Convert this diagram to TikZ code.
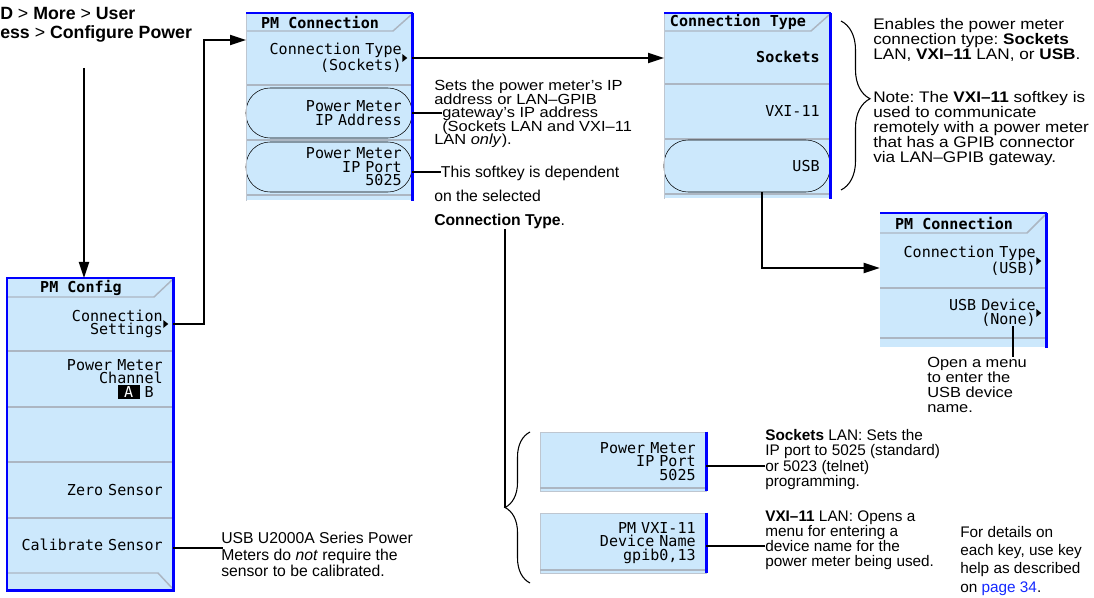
\documentclass[tikz,border=0pt]{standalone}
\usepackage{fontspec}
\setmainfont{Liberation Sans}
\newfontfamily\widefont{Liberation Sans}[FakeStretch=1.12]
\newfontfamily\keyfont{DejaVu Sans Mono}
\usetikzlibrary{calc,arrows.meta,positioning,decorations.pathreplacing}
\definecolor{keyblue}{RGB}{204,232,252}
\definecolor{sepgray}{RGB}{172,182,194}
\definecolor{edgegray}{RGB}{190,198,208}
\definecolor{rimblue}{RGB}{0,0,255}
\definecolor{linkblue}{RGB}{20,40,255}
\setlength{\lineskiplimit}{-20pt}
\frenchspacing
\tikzset{
  menu/.style={rectangle, fill=keyblue, draw=none, anchor=north west,
    minimum width=124.5pt, inner sep=0pt},
  softkey/.style={rectangle, inner xsep=7.75pt, inner ysep=0pt, text width=109pt,
    align=right, minimum height=37.5pt,
    font=\keyfont\fontsize{11.3}{10.2}\selectfont},
  boldkey/.style={softkey, font=\keyfont\bfseries\fontsize{11.3}{10.2}\selectfont},
  picked/.style={softkey, draw=black, thin, rounded corners=18pt},
  menutitle/.style={font=\keyfont\bfseries\fontsize{11.3}{10.2}\selectfont, inner sep=0pt},
  sepline/.style={draw=sepgray, line width=1.1pt},
  rimline/.style={draw=rimblue, line width=1.6pt},
  rimside/.style={draw=rimblue, line width=2.4pt},
  wire/.style={draw=black, line width=1.5pt},
  arr/.style={wire, -{Triangle[length=12pt, width=7.5pt]}},
  note/.style={anchor=north west, inner sep=0pt, align=left,
    font=\fontsize{11.5}{#1}\selectfont},
  note/.default=11.5,
  widenote/.style 2 args={note, font=\widefont\fontsize{#1}{#2}\selectfont},
  curly/.style 2 args={draw=black, line width=0.8pt, decorate,
    decoration={brace, amplitude=#1, aspect=#2}}
}
\newcommand{\keyarrow}[1]{\fill ($(#1.east)+(-10,-4)$) -- ++(5,4) -- ++(-5,4) -- cycle;}

\begin{document}
\begin{tikzpicture}[x=0.75pt, y=-0.75pt]
  \useasboundingbox (0,0) rectangle (1094,598);

  % key path heading, cut at the left edge
  \node[note, font=\bfseries\fontsize{13.3}{14.25}\selectfont]
    (hdr) at (0,7.5) {D {\mdseries >} More {\mdseries >} User\\ess {\mdseries >} Configure Power};

  % PM Config menu
  \node[menu, minimum height=234pt] (cfgmenu) at (7,278) {};
  \node[menutitle] (cfgtitle) at (81,288) {PM Config};
  \draw[sepline] (7,297) -- (154,297) -- (172,280);
  \node[softkey] (cfgconn) at (90,324) {Connection\\Settings};
  \node[softkey] (cfgchan) at (90,379)
    {Power Meter\\Channel\\{\setlength\fboxsep{1pt}\colorbox{black}{\textcolor{white}{\ A\ }}}\ B\phantom{B}};
  \node[softkey] (cfgzero) at (90,490) {Zero Sensor};
  \node[softkey] (cfgcal) at (90,545) {Calibrate Sensor};
  \foreach \y in {351,407,462,518} \draw[sepline] (7,\y) -- (173,\y);
  \draw[sepline] (7,573) -- (158,573) -- (172,588);
  \draw[rimline] (cfgmenu.south west) rectangle (cfgmenu.north east);
  \draw[rimside] (cfgmenu.north east) -- (cfgmenu.south east);
  \keyarrow{cfgconn}

  % PM Connection menu (Sockets)
  \node[menu, minimum height=140.25pt] (sockmenu) at (246,13) {};
  \node[menutitle] (socktitle) at (320,22) {PM Connection};
  \draw[sepline] (246,31) -- (393,31) -- (411,15);
  \foreach \y in {85,140,195} \draw[sepline] (246,\y) -- (412,\y);
  \node[softkey] (sockconn) at (329,58) {Connection Type\\(Sockets)};
  \node[picked] (sockaddr) at (329,113) {Power Meter\\IP Address};
  \node[picked] (sockport) at (329,167) {Power Meter\\IP Port\\5025};
  \draw[edgegray] (sockmenu.north west) -- (sockmenu.south west);
  \draw[rimline] (sockmenu.north west) -- (sockmenu.north east);
  \draw[rimside] (sockmenu.north east) -- (sockmenu.south east);
  \keyarrow{sockconn}

  % Connection Type menu
  \node[menu, minimum height=138.75pt] (typemenu) at (664,13) {};
  \node[menutitle] (typetitle) at (738,22) {Connection Type};
  \draw[sepline] (664,31) -- (811,31) -- (829,15);
  \foreach \y in {84,139,194} \draw[sepline] (664,\y) -- (830,\y);
  \node[boldkey] (typesock) at (747,57) {Sockets};
  \node[softkey] (typevxi) at (747,111) {VXI-11};
  \node[picked, minimum height=39pt] (typeusb) at (747,166) {USB};
  \draw[edgegray] (typemenu.north west) -- (typemenu.south west);
  \draw[rimline] (typemenu.north west) -- (typemenu.north east);
  \draw[rimside] (typemenu.north east) -- (typemenu.south east);

  % PM Connection menu (USB)
  \node[menu, minimum height=100.5pt] (usbmenu) at (880,213) {};
  \node[menutitle] (usbtitle) at (954,223) {PM Connection};
  \draw[sepline] (880,233) -- (1027,233) -- (1045,215);
  \foreach \y in {288,338} \draw[sepline] (880,\y) -- (1046,\y);
  \node[softkey] (usbconn) at (963,261) {Connection Type\\(USB)};
  \node[softkey] (usbdev) at (963,313) {USB Device\\(None)};
  \draw[rimline] (usbmenu.north west) -- (usbmenu.north east);
  \draw[rimside] (usbmenu.north east) -- (usbmenu.south east);
  \keyarrow{usbconn}
  \keyarrow{usbdev}

  % the two keys that depend on the connection type
  \node[softkey, fill=keyblue, draw=edgegray, thin, minimum height=44.25pt] (portkey) at (623,461.5)
    {Power Meter\\IP Port\\5025};
  \draw[sepline] (540,488) -- (706,488);
  \draw[rimside] (portkey.north east) -- (portkey.south east);
  \node[softkey, fill=keyblue, draw=edgegray, thin, minimum height=45pt] (vxikey) at (623,543)
    {PM VXI-11\\Device Name\\gpib0,13};
  \draw[sepline] (540,570) -- (706,570);
  \draw[rimside] (vxikey.north east) -- (vxikey.south east);

  % notes
  \node[widenote={11}{10.1}] (setsnote) at (434,80) {Sets the power meter’s IP\\address or LAN–GPIB\\\hspace*{6pt}gateway’s IP address\\\hspace*{6pt}(Sockets LAN and VXI–11\\LAN \textit{only}).};
  \node[note=18, font=\fontsize{11.8}{18}\selectfont] (depnote) at (434,166) {\hspace*{5pt}This softkey is dependent\\on the selected\\\textbf{Connection Type}.};
  \node[widenote={11.5}{11.25}] (enablenote) at (873,18) {Enables the power meter\\connection type: \textbf{Sockets}\\LAN, \textbf{VXI–11} LAN, or \textbf{USB}.};
  \node[widenote={11.5}{11.25}] (typenote) at (873,91) {Note: The \textbf{VXI–11} softkey is\\used to communicate\\remotely with a power meter\\that has a GPIB connector\\via LAN–GPIB gateway.};
  \node[widenote={11}{11.25}] (opennote) at (927,357) {Open a menu\\to enter the\\USB device\\name.};
  \node[note=12.4, font=\fontsize{11.8}{12.4}\selectfont] (usbnote) at (221,532) {USB U2000A Series Power\\Meters do \textit{not} require the\\sensor to be calibrated.};
  \node[note=11.5] (socknote) at (765,429) {\textbf{Sockets} LAN: Sets the\\IP port to 5025 (standard)\\or 5023 (telnet)\\programming.};
  \node[note=11.25] (devnote) at (765,511) {\textbf{VXI–11} LAN: Opens a\\menu for entering a\\device name for the\\power meter being used.};
  \node[note=13.7] (helpnote) at (960,526) {For details on\\each key, use key\\help as described\\on \textcolor{linkblue}{page 34}.};

  % connectors
  \coordinate (hdrfoot) at (84,68);
  \draw[arr] (hdrfoot) -- (hdrfoot |- cfgmenu.north);
  \coordinate (sockentry) at (246,40);
  \draw[arr] (cfgconn.east) -- ++(31,0) |- (sockentry);
  \draw[arr] (sockconn.east) -- (sockconn.east -| typemenu.west);
  \draw[wire] (sockaddr.east) -- ($(sockaddr.east -| setsnote.west)+(8,0)$);
  \draw[wire] ($(sockport.east)+(0,5)$) -- ($(sockport.east -| depnote.west)+(7,5)$);
  \draw[arr] ($(typeusb.south)+(15,0)$) |- ($(usbconn.west)+(0,7)$);
  \coordinate (nonefoot) at ($(usbdev.center)+(50,13)$);
  \draw[wire] (nonefoot) -- (nonefoot |- opennote.north);
  \draw[wire] ($(portkey.east)+(0,4)$) -- ($(portkey.east -| socknote.west)+(0,4)$);
  \draw[wire] ($(vxikey.east)+(0,3)$) -- ($(vxikey.east -| devnote.west)+(0,3)$);
  \draw[wire] ($(cfgcal.east)+(0,3)$) -- ($(cfgcal.east -| usbnote.west)+(2,3)$);

  % braces
  \coordinate (bracetip) at (505,508);
  \draw[wire] (depnote.south -| bracetip) -- (bracetip);
  \draw[curly={18.75pt}{0.5}] (530,583) -- (530,432);
  \draw[curly={21.75pt}{0.46}] (841,21) -- (841,190);
\end{tikzpicture}
\end{document}
